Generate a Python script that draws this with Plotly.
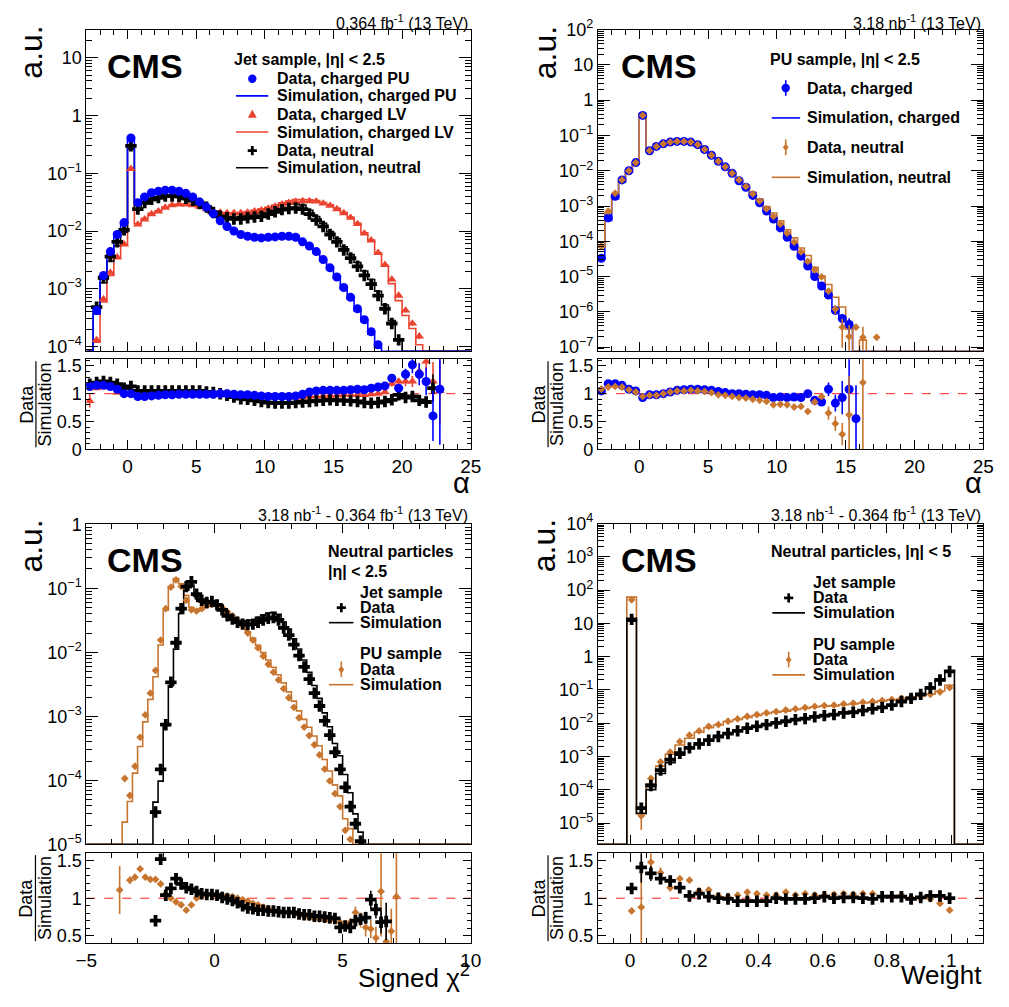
import plotly.graph_objects as go

W, H = 1009, 1007
FONT = "Liberation Sans, Arial, Helvetica, sans-serif"
BLUE, RED, ORANGE, BLACK = "#0000ff", "#ec4330", "#c8752f", "#000000"

# ------------------------------------------------------------------
# Jet sample, alpha: 0.5-wide bins, first bin centre at -2.75
# (None = below the plotted range / no entry)
# ------------------------------------------------------------------
jet_alpha_first = -2.75
jet_alpha_width = 0.5

jet_pu_data = [None, 4.2e-4, 1.7e-3, 4.4e-3, 8.7e-3, 1.4e-2, 0.41, 3.1e-2, 3.9e-2, 4.6e-2,
               4.9e-2, 5.1e-2, 5.1e-2, 4.9e-2, 4.5e-2, 3.9e-2, 3.2e-2, 2.6e-2, 2.0e-2, 1.5e-2,
               1.2e-2, 1.0e-2, 8.7e-3, 8.1e-3, 7.8e-3, 7.6e-3, 7.8e-3, 7.9e-3, 8.1e-3, 8.1e-3,
               7.8e-3, 6.5e-3, 5.5e-3, 4.4e-3, 3.2e-3, 2.3e-3, 1.6e-3, 1.05e-3, 7.1e-4, 4.5e-4,
               2.9e-4, 1.8e-4, 1.07e-4, None, None, None, None, None, None, None,
               None, None]
jet_pu_ratio = [1.13, 1.15, 1.15, 1.13, 1.08, 1.00, 1.00, 0.95, 0.95, 0.96,
                0.97, 0.98, 0.98, 0.99, 0.99, 0.99, 0.99, 0.99, 0.99, 1.00,
                1.00, 0.99, 0.98, 0.98, 0.97, 0.96, 0.95, 0.95, 0.95, 0.95,
                0.96, 0.99, 1.03, 1.05, 1.06, 1.06, 1.06, 1.06, 1.07, 1.08,
                1.07, 1.10, 1.12, 1.14, 1.28, 1.10, 1.35, 1.52, 1.35, 1.22,
                0.60, 1.08]
jet_pu_ratio_err = [0.02, 0.02, 0.01, 0.01, 0.01, 0.01, 0.01, 0.01, 0.01, 0.01,
                    0.01, 0.01, 0.01, 0.01, 0.01, 0.01, 0.01, 0.01, 0.01, 0.01,
                    0.01, 0.01, 0.01, 0.01, 0.01, 0.01, 0.01, 0.01, 0.01, 0.01,
                    0.01, 0.01, 0.01, 0.01, 0.01, 0.01, 0.01, 0.01, 0.015, 0.015,
                    0.02, 0.02, 0.025, 0.03, 0.04, 0.07, 0.10, 0.15, 0.20, 0.25,
                    0.45, 1.0]

jet_lv_data = [None, 1.3e-4, 6.6e-4, 1.9e-3, 3.5e-3, 5.9e-3, 0.12, 1.3e-2, 1.6e-2, 1.97e-2,
               2.2e-2, 2.55e-2, 2.8e-2, 2.9e-2, 2.9e-2, 2.8e-2, 2.65e-2, 2.4e-2, 2.2e-2, 2.1e-2,
               2.05e-2, 2.05e-2, 2.05e-2, 2.1e-2, 2.2e-2, 2.3e-2, 2.45e-2, 2.65e-2, 2.9e-2, 3.1e-2,
               3.25e-2, 3.3e-2, 3.3e-2, 3.25e-2, 3.0e-2, 2.75e-2, 2.4e-2, 2.05e-2, 1.7e-2, 1.33e-2,
               9.1e-3, 6.9e-3, 4.2e-3, 2.6e-3, 1.45e-3, 7.6e-4, 4.2e-4, 2.5e-4, 1.5e-4, None,
               None, None]
jet_lv_ratio = [0.87, 1.10, 1.12, 1.12, 1.02, 1.02, 1.02, 0.97, 0.97, 0.97,
                0.98, 0.98, 0.99, 0.99, 0.99, 0.99, 0.99, 0.99, 0.99, 1.00,
                0.99, 0.99, 0.98, 0.97, 0.96, 0.95, 0.95, 0.94, 0.94, 0.94,
                0.93, 0.94, 0.95, 0.96, 0.96, 0.97, 0.97, 0.98, 0.98, 0.98,
                0.98, 0.99, 1.00, 1.03, 1.18, 1.22, 1.22, 1.22, 1.40, 1.58,
                1.22, 1.05]
jet_lv_ratio_err = [0.12, 0.03, 0.02, 0.015, 0.01, 0.01, 0.01, 0.01, 0.01, 0.01,
                    0.01, 0.01, 0.01, 0.01, 0.01, 0.01, 0.01, 0.01, 0.01, 0.01,
                    0.01, 0.01, 0.01, 0.01, 0.01, 0.01, 0.01, 0.01, 0.01, 0.01,
                    0.01, 0.01, 0.01, 0.01, 0.01, 0.01, 0.01, 0.01, 0.01, 0.01,
                    0.01, 0.01, 0.015, 0.02, 0.05, 0.06, 0.08, 0.10, 0.15, 0.20,
                    0.35, 0.60]

jet_neu_data = [None, 4.8e-4, 1.55e-3, 3.6e-3, 6.5e-3, 1.05e-2, 0.30, 2.4e-2, 3.1e-2, 3.55e-2,
                3.8e-2, 4.05e-2, 4.05e-2, 4.0e-2, 3.7e-2, 3.4e-2, 3.0e-2, 2.6e-2, 2.1e-2, 1.8e-2,
                1.7e-2, 1.62e-2, 1.62e-2, 1.7e-2, 1.75e-2, 1.8e-2, 1.97e-2, 2.16e-2, 2.35e-2, 2.45e-2,
                2.5e-2, 2.4e-2, 1.97e-2, 1.55e-2, 1.2e-2, 8.7e-3, 6.5e-3, 4.7e-3, 3.4e-3, 2.45e-3,
                1.7e-3, 1.2e-3, 7.6e-4, 4.5e-4, 2.5e-4, 1.3e-4, None, None, None, None,
                None, None]
jet_neu_ratio = [1.17, 1.20, 1.22, 1.20, 1.17, 1.10, 1.13, 1.05, 1.05, 1.05,
                 1.05, 1.05, 1.05, 1.05, 1.05, 1.05, 1.05, 1.03, 1.02, 1.00,
                 0.97, 0.94, 0.91, 0.90, 0.88, 0.86, 0.84, 0.83, 0.83, 0.83,
                 0.84, 0.85, 0.86, 0.87, 0.88, 0.89, 0.88, 0.88, 0.87, 0.86,
                 0.84, 0.83, 0.84, 0.86, 0.89, 0.98, 0.93, 0.95, 0.88, 0.85,
                 1.10, None]
jet_neu_ratio_err = [0.03, 0.02, 0.015, 0.015, 0.015, 0.015, 0.015, 0.015, 0.015, 0.015,
                     0.015, 0.015, 0.015, 0.015, 0.015, 0.015, 0.015, 0.015, 0.015, 0.015,
                     0.015, 0.015, 0.015, 0.015, 0.015, 0.015, 0.015, 0.015, 0.015, 0.015,
                     0.015, 0.015, 0.015, 0.015, 0.015, 0.015, 0.015, 0.015, 0.015, 0.015,
                     0.015, 0.015, 0.02, 0.025, 0.03, 0.04, 0.04, 0.05, 0.07, 0.10,
                     0.25, None]

# ------------------------------------------------------------------
# PU sample, alpha: 0.5-wide bins, first bin centre at -2.75
# ------------------------------------------------------------------
pu_alpha_first = -2.75
pu_alpha_width = 0.5

pu_ch_data = [3.3e-5, 4.6e-4, 1.9e-3, 5.5e-3, 1.0e-2, 1.7e-2, 0.37, 3.7e-2, 4.9e-2, 5.8e-2,
              6.5e-2, 6.8e-2, 6.8e-2, 6.5e-2, 5.5e-2, 4.0e-2, 2.75e-2, 1.86e-2, 1.29e-2, 8.5e-3,
              5.2e-3, 3.4e-3, 2.0e-3, 1.23e-3, 7.2e-4, 4.3e-4, 2.4e-4, 1.3e-4, 7.2e-5, 3.8e-5,
              2.0e-5, 1.0e-5, 5.4e-6, 3.0e-6, 1.1e-6, 6.5e-7, 4.4e-7, None, None, None,
              None]
pu_ch_ratio = [1.05, 1.18, 1.18, 1.15, 1.08, 1.05, 0.93, 0.98, 0.98, 1.00,
               1.03, 1.06, 1.07, 1.08, 1.08, 1.07, 1.06, 1.04, 1.02, 1.00,
               1.00, 0.99, 0.98, 0.98, 0.97, 0.93, 0.94, 0.93, 0.94, 0.93,
               1.00, 0.88, 0.85, 1.08, 0.83, 0.93, 1.08, 0.55, None, None,
               None]
pu_ch_ratio_err = [0.03, 0.015, 0.01, 0.01, 0.01, 0.01, 0.01, 0.01, 0.01, 0.01,
                   0.01, 0.01, 0.01, 0.01, 0.01, 0.01, 0.01, 0.01, 0.01, 0.01,
                   0.01, 0.01, 0.01, 0.01, 0.01, 0.015, 0.015, 0.015, 0.02, 0.02,
                   0.025, 0.03, 0.04, 0.12, 0.15, 0.30, 0.55, 0.60, None, None,
                   None]

pu_neu_data = [7.2e-5, 7.2e-4, 2.3e-3, 5.5e-3, 1.0e-2, 1.7e-2, 0.37, 3.7e-2, 4.9e-2, 5.8e-2,
               6.5e-2, 6.8e-2, 6.8e-2, 6.5e-2, 5.5e-2, 4.0e-2, 2.75e-2, 1.86e-2, 1.29e-2, 8.5e-3,
               5.5e-3, 3.6e-3, 2.2e-3, 1.38e-3, 8.3e-4, 5.1e-4, 3.1e-4, 1.7e-4, 9.5e-5, 5.0e-5,
               2.7e-5, 1.55e-5, 9.8e-6, 3.9e-6, 1.2e-6, 3.7e-7, 2.0e-7, 3.7e-7, 1.9e-7, None,
               1.9e-7]
pu_neu_ratio = [1.08, 1.12, 1.13, 1.12, 1.07, 1.03, 0.95, 0.97, 0.97, 1.00,
                1.03, 1.05, 1.05, 1.06, 1.05, 1.04, 1.02, 0.98, 0.97, 0.95,
                0.93, 0.92, 0.90, 0.88, 0.86, 0.80, 0.81, 0.80, 0.76, 0.77,
                0.68, 0.85, 0.95, 0.65, 0.46, 0.27, 0.62, None, 1.20, None,
                None]
pu_neu_ratio_err = [0.04, 0.02, 0.02, 0.02, 0.02, 0.02, 0.02, 0.02, 0.02, 0.02,
                    0.02, 0.02, 0.02, 0.02, 0.02, 0.02, 0.02, 0.02, 0.02, 0.02,
                    0.02, 0.02, 0.02, 0.02, 0.02, 0.025, 0.025, 0.03, 0.03, 0.035,
                    0.04, 0.05, 0.06, 0.12, 0.13, 0.20, 0.70, None, 1.2, None,
                    None]

# ------------------------------------------------------------------
# Neutral particles, signed chi2: 0.2-wide bins
# ------------------------------------------------------------------
chi_width = 0.2

chi_jet_first = -2.3
chi_jet_data = [3.2e-5, 1.48e-4, 7.4e-4, 3.4e-3, 1.41e-2, 4.8e-2, 0.106, 0.126, 8.1e-2, 6.5e-2,
                6.0e-2, 6.2e-2, 5.5e-2, 4.6e-2, 3.7e-2, 3.3e-2, 2.95e-2, 2.75e-2, 2.7e-2, 2.75e-2,
                2.95e-2, 3.2e-2, 3.4e-2, 3.5e-2, 3.2e-2, 2.4e-2, 1.86e-2, 1.32e-2, 8.9e-3, 5.9e-3,
                3.8e-3, 2.3e-3, 1.45e-3, 8.5e-4, 5.1e-4, 2.75e-4, 1.48e-4, 7.8e-5, 3.9e-5, 2.1e-5,
                1.12e-5]
chi_jet_ratio = [0.70, 1.52, 1.04, 1.13, 1.26, 1.19, 1.14, 1.12, 1.09, 1.06,
                 1.05, 1.05, 1.04, 1.01, 0.99, 0.97, 0.94, 0.90, 0.87, 0.86,
                 0.84, 0.84, 0.83, 0.83, 0.82, 0.81, 0.81, 0.81, 0.79, 0.78,
                 0.78, 0.76, 0.76, 0.75, 0.74, 0.73, 0.61, 0.63, 0.61, 0.70,
                 0.72, 0.74, 0.98, 0.85, 0.68, 0.69]
chi_jet_ratio_err = [0.04, 0.06, 0.03, 0.02, 0.015, 0.015, 0.015, 0.015, 0.015, 0.015,
                     0.015, 0.015, 0.015, 0.015, 0.015, 0.015, 0.015, 0.015, 0.015, 0.015,
                     0.015, 0.015, 0.015, 0.015, 0.015, 0.015, 0.015, 0.015, 0.015, 0.015,
                     0.015, 0.015, 0.015, 0.015, 0.02, 0.02, 0.03, 0.03, 0.035, 0.04,
                     0.06, 0.08, 0.12, 0.12, 0.15, 0.25]

# first bin (-3.7) lies below the main-plot range; the -3.5 ratio is off the ratio scale
chi_pu_first = -3.7
chi_pu_data = [None, 1.07e-4, 5.8e-5, 1.66e-4, 4.7e-4, 1.05e-3, 2.3e-3, 5.2e-3, 1.55e-2, 4.8e-2,
               0.104, 0.135, 0.107, 6.5e-2, 4.6e-2, 4.4e-2, 4.8e-2, 5.4e-2, 5.6e-2, 5.5e-2,
               5.0e-2, 4.3e-2, 3.7e-2, 3.2e-2, 2.6e-2, 2.0e-2, 1.55e-2, 1.17e-2, 8.7e-3, 6.5e-3,
               4.9e-3, 3.7e-3, 2.7e-3, 1.95e-3, 1.38e-3, 9.5e-4, 6.8e-4, 5.0e-4, 3.6e-4, 2.5e-4,
               1.5e-4, 9.8e-5, 6.2e-5, 3.9e-5, 1.66e-5, 1.2e-5]
chi_pu_ratio = [1.11, 4.8, 1.24, 1.28, 1.39, 1.28, 1.25, 1.25, 1.19, 1.06,
                1.00, 0.95, 0.91, 0.84, 0.91, 1.00, 1.03, 1.04, 1.05, 1.05,
                1.04, 1.03, 1.02, 1.00, 0.98, 0.96, 0.93, 0.91, 0.88, 0.86,
                0.84, 0.83, 0.81, 0.81, 0.80, 0.78, 0.76, 0.74, 0.73, 0.72,
                0.71, 0.70, 0.73, 0.68, 0.66, 0.68, 0.81, 0.71, 0.61, 0.59,
                0.47, 1.09, 0.42, 0.56, 1.02]
chi_pu_ratio_err = [0.32, None, 0.05, 0.04, 0.04, 0.03, 0.03, 0.03, 0.03, 0.02,
                    0.02, 0.02, 0.02, 0.02, 0.015, 0.015, 0.015, 0.015, 0.015, 0.015,
                    0.015, 0.015, 0.015, 0.015, 0.015, 0.015, 0.015, 0.015, 0.015, 0.015,
                    0.015, 0.015, 0.015, 0.015, 0.015, 0.015, 0.02, 0.02, 0.02, 0.025,
                    0.025, 0.03, 0.03, 0.035, 0.04, 0.05, 0.08, 0.10, 0.12, 0.12,
                    0.15, 0.60, 0.30, 0.30, 0.70]

# ------------------------------------------------------------------
# Neutral particles, weight: 0.03-wide bins, first bin centre at 0.005
# ------------------------------------------------------------------
wgt_first = 0.005
wgt_width = 0.03

wgt_jet_data = [13.2, 2.8e-5, 1.35e-4, 3.9e-4, 8.1e-4, 1.26e-3, 1.82e-3, 2.4e-3, 3.1e-3, 4.0e-3,
                4.9e-3, 5.9e-3, 7.1e-3, 8.1e-3, 9.1e-3, 1.02e-2, 1.15e-2, 1.29e-2, 1.38e-2, 1.55e-2,
                1.7e-2, 1.82e-2, 2.04e-2, 2.14e-2, 2.4e-2, 2.7e-2, 3.0e-2, 3.5e-2, 4.5e-2, 5.6e-2,
                7.4e-2, 0.115, 0.20, 0.36]
wgt_jet_ratio = [1.13, 1.41, 1.33, 1.26, 1.23, 1.14, 1.03, 1.06, 1.02, 1.00,
                 0.99, 0.96, 0.96, 0.96, 0.96, 1.00, 0.99, 0.99, 0.99, 1.00,
                 1.02, 1.00, 1.01, 1.01, 1.00, 0.99, 1.02, 1.02, 1.02, 0.99,
                 1.01, 1.03, 1.03, 1.00]
wgt_jet_ratio_err = [0.02, 0.20, 0.10, 0.05, 0.03, 0.03, 0.02, 0.02, 0.015, 0.015,
                     0.015, 0.015, 0.015, 0.015, 0.015, 0.015, 0.015, 0.015, 0.015, 0.015,
                     0.015, 0.015, 0.015, 0.015, 0.015, 0.015, 0.015, 0.015, 0.015, 0.015,
                     0.015, 0.015, 0.015, 0.015]

wgt_pu_data = [51.0, 1.66e-5, 2.2e-4, 6.9e-4, 1.35e-3, 2.8e-3, 4.4e-3, 5.9e-3, 8.1e-3, 9.1e-3,
               1.15e-2, 1.35e-2, 1.62e-2, 1.82e-2, 2.04e-2, 2.24e-2, 2.5e-2, 2.7e-2, 2.95e-2, 3.2e-2,
               3.4e-2, 3.5e-2, 3.8e-2, 4.0e-2, 4.3e-2, 4.5e-2, 4.8e-2, 5.2e-2, 5.6e-2, 6.2e-2,
               6.6e-2, 7.4e-2, 8.7e-2, 0.117]
wgt_pu_ratio = [0.83, 0.88, 1.48, 1.34, 1.14, 1.26, 1.24, 1.10, 1.11, 1.03,
                1.02, 1.04, 1.08, 1.06, 1.04, 1.04, 1.08, 1.04, 1.06, 1.04,
                1.04, 1.05, 1.06, 1.05, 1.06, 1.06, 1.02, 1.03, 1.04, 1.01,
                1.00, 0.99, 0.93, 0.84]
wgt_pu_ratio_err = [0.02, 0.55, 0.15, 0.07, 0.05, 0.04, 0.03, 0.03, 0.02, 0.02,
                    0.02, 0.02, 0.02, 0.02, 0.02, 0.02, 0.02, 0.02, 0.02, 0.02,
                    0.02, 0.02, 0.02, 0.02, 0.02, 0.02, 0.02, 0.02, 0.02, 0.02,
                    0.02, 0.02, 0.02, 0.02]


# ------------------------------------------------------------------
# helpers
# ------------------------------------------------------------------
def pad(a, n):
    return list(a) + [None] * (n - len(a))


def series(first, width, data, ratio, err):
    """Bin centres, data, simulation (= data / ratio) and error arrays."""
    n = max(len(data), len(ratio))
    data, ratio, err = pad(data, n), pad(ratio, n), pad(err, n)
    x = [first + width * i for i in range(n)]
    sim = [d / r if (d is not None and r) else None for d, r in zip(data, ratio)]
    derr = [d * e / r if (d is not None and r and e) else 0 for d, r, e in zip(data, ratio, err)]
    rerr = [e if e else 0 for e in err]
    return dict(x=x, data=data, sim=sim, ratio=ratio, rerr=rerr, derr=derr)


def hist_trace(lo, hi, width, s, floor, color, xa, ya):
    nb = int(round((hi - lo) / width))
    vals = [floor] * nb
    for c, v in zip(s["x"], s["sim"]):
        if v is not None:
            k = int(round((c - lo) / width - 0.5))
            if 0 <= k < nb:
                vals[k] = max(v, floor)
    edges = [lo + width * k for k in range(nb + 1)]
    return go.Scatter(x=edges, y=vals + [vals[-1]], mode="lines",
                      line=dict(color=color, width=1.6, shape="hv"),
                      xaxis=xa, yaxis=ya, hoverinfo="skip", showlegend=False)


MARKERS = {
    "circle": dict(symbol="circle", size=9),
    "triangle": dict(symbol="triangle-up", size=8.5),
    "cross": dict(symbol="cross", size=9.5),
    "diamond": dict(symbol="diamond", size=6),
}


def point_trace(x, y, err, color, kind, xa, ya):
    m = dict(MARKERS[kind], color=color, line=dict(width=0))
    return go.Scatter(x=x, y=y, mode="markers", marker=m,
                      error_y=dict(type="data", array=err, visible=True, width=0,
                                   thickness=1.6, color=color),
                      xaxis=xa, yaxis=ya, hoverinfo="skip", showlegend=False)


def px(x):
    return x / W


def py(y):
    return 1 - y / H


def log_ticks(lo, hi):
    vals, text, minor = [], [], []
    for d in range(lo, hi + 1):
        vals.append(10.0 ** d)
        if d == 0:
            text.append("1")
        elif d == 1:
            text.append("10")
        else:
            text.append("10<sup>%s</sup>" % (str(d).replace("-", "\u2212")))
    for d in range(lo - 1, hi + 1):
        for m in range(2, 10):
            minor.append(m * 10.0 ** d)
    return vals, text, minor


COMMON = dict(showline=True, linecolor="black", linewidth=1, mirror="allticks",
              ticks="inside", tickcolor="black", tickwidth=1, showgrid=False,
              zeroline=False, tickfont=dict(family=FONT, size=18, color="black"))

# panel geometry in pixels: x extent, main plot (top, bottom), ratio (top, bottom)
PANELS = [
    dict(x=(77, 470), main=(18, 347), ratio=(355, 447)),
    dict(x=(600, 994), main=(18, 347), ratio=(355, 447)),
    dict(x=(77, 470), main=(523, 851), ratio=(860, 952)),
    dict(x=(600, 994), main=(523, 851), ratio=(860, 952)),
]

# per-panel axis settings
AXES = [
    dict(xr=(-3, 25), dtick=5, minor=1, ylog=(-4.086, 1.49), ydec=(-4, 1), rr=(0, 1.62),
         rt=[0, 0.5, 1, 1.5], rtt=["0", "0.5", "1", "1.5"]),
    dict(xr=(-3, 25), dtick=5, minor=1, ylog=(-7.12, 2.0), ydec=(-7, 2), rr=(0, 1.62),
         rt=[0, 0.5, 1, 1.5], rtt=["0", "0.5", "1", "1.5"]),
    dict(xr=(-5, 10), dtick=5, minor=1, ylog=(-5.0, 0.01), ydec=(-5, 0), rr=(0.4, 1.6),
         rt=[0.5, 1, 1.5], rtt=["0.5", "1", "1.5"]),
    dict(xr=(-0.1, 1.1), dtick=0.2, minor=0.05, ylog=(-5.64, 4.0), ydec=(-5, 4), rr=(0.4, 1.6),
         rt=[0.5, 1, 1.5], rtt=["0.5", "1", "1.5"]),
]

layout = dict(width=W, height=H, margin=dict(l=0, r=0, t=0, b=0),
              paper_bgcolor="white", plot_bgcolor="white", showlegend=False,
              font=dict(family=FONT, color="black"))
shapes, annotations = [], []

for i, (p, a) in enumerate(zip(PANELS, AXES)):
    m, r = 2 * i + 1, 2 * i + 2
    xdom = [px(p["x"][0]), px(p["x"][1])]
    main_dom = [py(p["main"][1]), py(p["main"][0])]
    ratio_dom = [py(p["ratio"][1]), py(p["ratio"][0])]
    tv, tt, tm = log_ticks(*a["ydec"])
    xcommon = dict(COMMON, range=list(a["xr"]), tickmode="linear", tick0=0, dtick=a["dtick"],
                   ticklen=9, domain=xdom,
                   minor=dict(ticks="inside", ticklen=5, dtick=a["minor"], tick0=0,
                              tickcolor="black", showgrid=False))
    layout["xaxis%d" % m] = dict(xcommon, anchor="y%d" % m, showticklabels=False,
                                 matches="x%d" % r)
    layout["xaxis%d" % r] = dict(xcommon, anchor="y%d" % r,
                                 tickfont=dict(family=FONT, size=19, color="black"))
    layout["yaxis%d" % m] = dict(COMMON, type="log", range=list(a["ylog"]), domain=main_dom,
                                 anchor="x%d" % m, tickmode="array", tickvals=tv, ticktext=tt,
                                 ticklen=12,
                                 minor=dict(ticks="inside", ticklen=6, tickmode="array",
                                            tickvals=tm, tickcolor="black", showgrid=False))
    layout["yaxis%d" % r] = dict(COMMON, range=list(a["rr"]), domain=ratio_dom,
                                 anchor="x%d" % r, tickmode="array", tickvals=a["rt"],
                                 ticktext=a["rtt"], ticklen=8,
                                 minor=dict(ticks="inside", ticklen=4, dtick=0.1, tick0=0,
                                            tickcolor="black", showgrid=False))
    # unity line in the ratio pad
    shapes.append(dict(type="line", xref="x%d domain" % r, yref="y%d" % r, x0=0, x1=1,
                       y0=1, y1=1, line=dict(color="#ff2020", width=1, dash="dash"),
                       layer="below"))

# ------------------------------------------------------------------
# traces
# ------------------------------------------------------------------
traces = []


def add_panel(i, items):
    m, r = 2 * i + 1, 2 * i + 2
    a = AXES[i]
    floor = 10 ** a["ylog"][0]
    for s, color, kind, width, lo, hi in items:
        traces.append(hist_trace(lo, hi, width, s, floor, color, "x%d" % m, "y%d" % m))
    for s, color, kind, width, lo, hi in items:
        traces.append(point_trace(s["x"], s["data"], s["derr"], color, kind, "x%d" % m, "y%d" % m))
        traces.append(point_trace(s["x"], s["ratio"], s["rerr"], color, kind, "x%d" % r, "y%d" % r))


s_jet_pu = series(jet_alpha_first, jet_alpha_width, jet_pu_data, jet_pu_ratio, jet_pu_ratio_err)
s_jet_lv = series(jet_alpha_first, jet_alpha_width, jet_lv_data, jet_lv_ratio, jet_lv_ratio_err)
s_jet_neu = series(jet_alpha_first, jet_alpha_width, jet_neu_data, jet_neu_ratio, jet_neu_ratio_err)
add_panel(0, [(s_jet_lv, RED, "triangle", 0.5, -3, 25),
              (s_jet_neu, BLACK, "cross", 0.5, -3, 25),
              (s_jet_pu, BLUE, "circle", 0.5, -3, 25)])

s_pu_ch = series(pu_alpha_first, pu_alpha_width, pu_ch_data, pu_ch_ratio, pu_ch_ratio_err)
s_pu_neu = series(pu_alpha_first, pu_alpha_width, pu_neu_data, pu_neu_ratio, pu_neu_ratio_err)
add_panel(1, [(s_pu_ch, BLUE, "circle", 0.5, -3, 25),
              (s_pu_neu, ORANGE, "diamond", 0.5, -3, 25)])

s_chi_jet = series(chi_jet_first, chi_width, chi_jet_data, chi_jet_ratio, chi_jet_ratio_err)
s_chi_pu = series(chi_pu_first, chi_width, chi_pu_data, chi_pu_ratio, chi_pu_ratio_err)
add_panel(2, [(s_chi_pu, ORANGE, "diamond", 0.2, -5, 10),
              (s_chi_jet, BLACK, "cross", 0.2, -5, 10)])

s_wgt_jet = series(wgt_first, wgt_width, wgt_jet_data, wgt_jet_ratio, wgt_jet_ratio_err)
s_wgt_pu = series(wgt_first, wgt_width, wgt_pu_data, wgt_pu_ratio, wgt_pu_ratio_err)
add_panel(3, [(s_wgt_pu, ORANGE, "diamond", 0.03, -0.1, 1.1),
              (s_wgt_jet, BLACK, "cross", 0.03, -0.1, 1.1)])


# ------------------------------------------------------------------
# text and legend glyphs (pixel positions on the page)
# ------------------------------------------------------------------
def ann(x, y, text, size, xanchor="left", yanchor="middle", angle=0, bold=False):
    if bold:
        text = "<b>%s</b>" % text
    annotations.append(dict(x=px(x), y=py(y), xref="paper", yref="paper", text=text,
                            showarrow=False, xanchor=xanchor, yanchor=yanchor,
                            textangle=angle, borderpad=0,
                            font=dict(family=FONT, size=size, color="black")))


def hline(x0, x1, y, color, width=1.6):
    shapes.append(dict(type="line", xref="paper", yref="paper", x0=px(x0), x1=px(x1),
                       y0=py(y), y1=py(y), line=dict(color=color, width=width)))


def vline(x, y0, y1, color, width=1.6):
    shapes.append(dict(type="line", xref="paper", yref="paper", x0=px(x), x1=px(x),
                       y0=py(y0), y1=py(y1), line=dict(color=color, width=width)))


def poly(pts, color):
    path = "M " + " L ".join("%f,%f" % (px(a), py(b)) for a, b in pts) + " Z"
    shapes.append(dict(type="path", xref="paper", yref="paper", path=path,
                       fillcolor=color, line=dict(width=0)))


def g_circle(cx, cy, color, r=4.3):
    shapes.append(dict(type="circle", xref="paper", yref="paper", x0=px(cx - r), x1=px(cx + r),
                       y0=py(cy + r), y1=py(cy - r), fillcolor=color, line=dict(width=0)))


def g_triangle(cx, cy, color, s=4.5):
    poly([(cx - s, cy + s * 0.85), (cx + s, cy + s * 0.85), (cx, cy - s)], color)


def g_cross(cx, cy, color, s=4.7, t=1.4):
    poly([(cx - s, cy - t), (cx + s, cy - t), (cx + s, cy + t), (cx - s, cy + t)], color)
    poly([(cx - t, cy - s), (cx + t, cy - s), (cx + t, cy + s), (cx - t, cy + s)], color)


def g_diamond(cx, cy, color, s=3.6):
    poly([(cx, cy - s), (cx + s * 0.85, cy), (cx, cy + s), (cx - s * 0.85, cy)], color)


# panel headers, luminosity labels and axis titles
for cx, cy in [(137, 55), (662, 55), (137, 560), (662, 560)]:
    ann(cx, cy, "CMS", 34, xanchor="center", bold=True)
lumi_a = "0.364 fb<sup>-1</sup> (13 TeV)"
lumi_b = "3.18 nb<sup>-1</sup> (13 TeV)"
lumi_c = "3.18 nb<sup>-1</sup> - 0.364 fb<sup>-1</sup> (13 TeV)"
ann(468, 10, lumi_a, 16, xanchor="right")
ann(993, 10, lumi_b, 16, xanchor="right")
ann(468, 513, lumi_c, 16, xanchor="right")
ann(993, 513, lumi_c, 16, xanchor="right")

for x, y in [(21, 41), (546, 42), (21, 546), (545, 546)]:
    ann(x, y, "a.u.", 32, xanchor="center", angle=-90)

for xd, xs, xl, yc, y0, y1 in [(17, 35, 25.5, 401, 357, 445), (540, 558, 549, 401, 357, 445),
                               (16, 34.5, 25, 906, 862, 950), (540, 558, 549, 906, 862, 950)]:
    ann(xd, yc, "Data", 18, xanchor="center", angle=-90)
    ann(xs, yc, "Simulation", 18, xanchor="center", angle=-90)
    vline(xl, y0, y1, "black", 1.2)

ann(470, 482, "\u03b1", 29, xanchor="right")
ann(994, 482, "\u03b1", 29, xanchor="right")
ann(470, 986, "Signed \u03c7<sup>2</sup>", 26, xanchor="right")
ann(994, 985, "Weight", 26, xanchor="right")

# legend: jet sample, alpha
ann(227, 49, "Jet sample, |\u03b7| &lt; 2.5", 16, bold=True)
rows = [68.3, 85.7, 104.3, 122.7, 141.7, 159.3]
labels = ["Data, charged PU", "Simulation, charged PU", "Data, charged LV",
          "Simulation, charged LV", "Data, neutral", "Simulation, neutral"]
for y, t in zip(rows, labels):
    ann(271, y, t, 16, bold=True)
g_circle(246.7, rows[0], BLUE)
hline(230, 263, rows[1], BLUE)
g_triangle(246.7, rows[2], RED)
hline(230, 263, rows[3], RED)
g_cross(246.7, rows[4], BLACK)
hline(230, 263, rows[5], BLACK)

# legend: PU sample, alpha
ann(775, 48.3, "PU sample, |\u03b7| &lt; 2.5", 16, bold=True)
rows = [77.7, 108.3, 138.3, 169.0]
labels = ["Data, charged", "Simulation, charged", "Data, neutral", "Simulation, neutral"]
for y, t in zip(rows, labels):
    ann(813, y, t, 16, bold=True)
vline(792, rows[0] - 8, rows[0] + 8, BLUE)
g_circle(792, rows[0], BLUE)
hline(777.7, 806.7, rows[1], BLUE)
vline(792, rows[2] - 8, rows[2] + 8, ORANGE)
g_diamond(792, rows[2], ORANGE)
hline(777.7, 806.7, rows[3], ORANGE)

# legend: signed chi2
ann(323, 551.7, "Neutral particles", 16, bold=True)
ann(323, 571.7, "|\u03b7| &lt; 2.5", 16, bold=True)
for y, t in [(593.3, "Jet sample"), (609, "Data"), (624.3, "Simulation"),
             (656, "PU sample"), (672.3, "Data"), (687.7, "Simulation")]:
    ann(356, y, t, 16, bold=True)
g_cross(337.7, 609, BLACK)
hline(325, 350, 624.3, BLACK)
vline(337.7, 664, 680, ORANGE)
g_diamond(337.7, 672.3, ORANGE)
hline(325, 350, 687.7, ORANGE)

# legend: weight
ann(775.7, 551.7, "Neutral particles, |\u03b7| &lt; 5", 16, bold=True)
for y, t in [(583.3, "Jet sample"), (599, "Data"), (614.3, "Simulation"),
             (646.7, "PU sample"), (662.3, "Data"), (677.7, "Simulation")]:
    ann(819, y, t, 16, bold=True)
g_cross(795, 599, BLACK)
hline(778.3, 811.7, 614.3, BLACK)
vline(795, 654, 670, ORANGE)
g_diamond(795, 662.3, ORANGE)
hline(778.3, 811.7, 677.7, ORANGE)

layout["shapes"] = shapes
layout["annotations"] = annotations

fig = go.Figure(data=traces, layout=layout)
fig.write_html("out.html")
